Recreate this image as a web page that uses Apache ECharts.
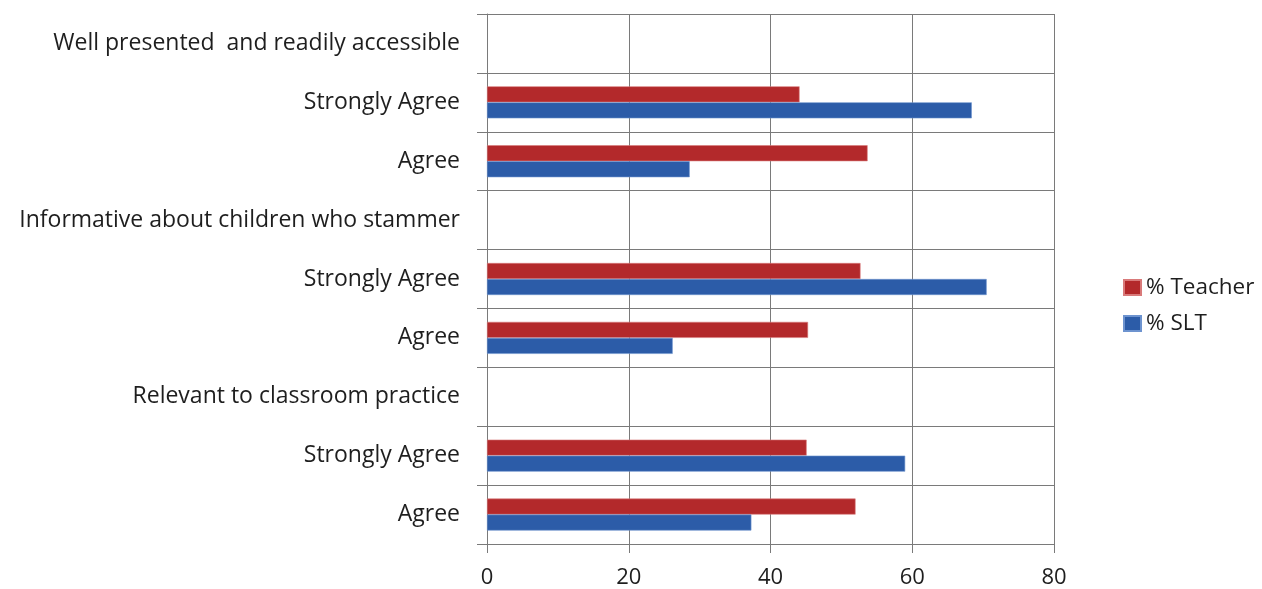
<!DOCTYPE html>
<html>
<head>
<meta charset="utf-8">
<script src="https://cdn.jsdelivr.net/npm/echarts@6/dist/echarts.min.js"></script>
<style>
html,body{margin:0;padding:0;background:#fff;}
#chart{width:1262px;height:589px;}
</style>
</head>
<body>
<div id="chart"></div>
<script>
// Categories listed bottom to top
const categories = [
  'Agree',
  'Strongly Agree',
  'Relevant to classroom practice',
  'Agree',
  'Strongly Agree',
  'Informative about children who stammer',
  'Agree',
  'Strongly Agree',
  'Well presented  and readily accessible'
];
const teacherValues = [52.0, 45.1, null, 45.3, 52.7, null, 53.7, 44.1, null];
const sltValues = [37.3, 59.0, null, 26.2, 70.5, null, 28.6, 68.4, null];
const xTicks = [0, 20, 40, 60, 80];

const FONT = '"Open Sans", sans-serif';
const chart = echarts.init(document.getElementById('chart'), null, {renderer: 'canvas'});
chart.setOption({
  animation: false,
  backgroundColor: '#ffffff',
  grid: {left: 487, right: 208, top: 14, bottom: 45, containLabel: false},
  legend: {
    orient: 'vertical',
    left: 1123,
    top: 276,
    padding: 0,
    itemWidth: 17,
    itemHeight: 15,
    itemGap: 13,
    data: ['% Teacher', '% SLT'],
    textStyle: {fontFamily: FONT, fontSize: 22.5, color: '#1e1e1e'},
    icon: 'rect'
  },
  xAxis: {
    type: 'value',
    min: xTicks[0],
    max: xTicks[xTicks.length - 1],
    interval: 20,
    axisLine: {show: true, lineStyle: {color: '#7a7a7a', width: 1}},
    axisTick: {show: true, length: 9, lineStyle: {color: '#7a7a7a'}},
    axisLabel: {fontFamily: FONT, fontSize: 22, color: '#1e1e1e', margin: 23},
    splitLine: {show: true, lineStyle: {color: '#7a7a7a', width: 1}}
  },
  yAxis: {
    type: 'category',
    data: categories,
    axisLine: {show: true, lineStyle: {color: '#7a7a7a', width: 1}},
    axisTick: {show: true, length: 10, lineStyle: {color: '#7a7a7a'}},
    axisLabel: {fontFamily: FONT, fontSize: 23, color: '#1e1e1e', margin: 27, padding: [5, 0, 0, 0]},
    splitLine: {show: true, lineStyle: {color: '#7a7a7a', width: 1}}
  },
  series: [
    {
      name: '% Teacher',
      type: 'bar',
      data: teacherValues,
      barWidth: 16,
      barGap: '0%',
      itemStyle: {color: '#b3292b', borderColor: '#d97a7a', borderWidth: 0.6}
    },
    {
      name: '% SLT',
      type: 'bar',
      data: sltValues,
      barWidth: 16,
      barGap: '0%',
      itemStyle: {color: '#2c5ca8', borderColor: '#6d93cf', borderWidth: 0.6}
    }
  ]
});
</script>
</body>
</html>
